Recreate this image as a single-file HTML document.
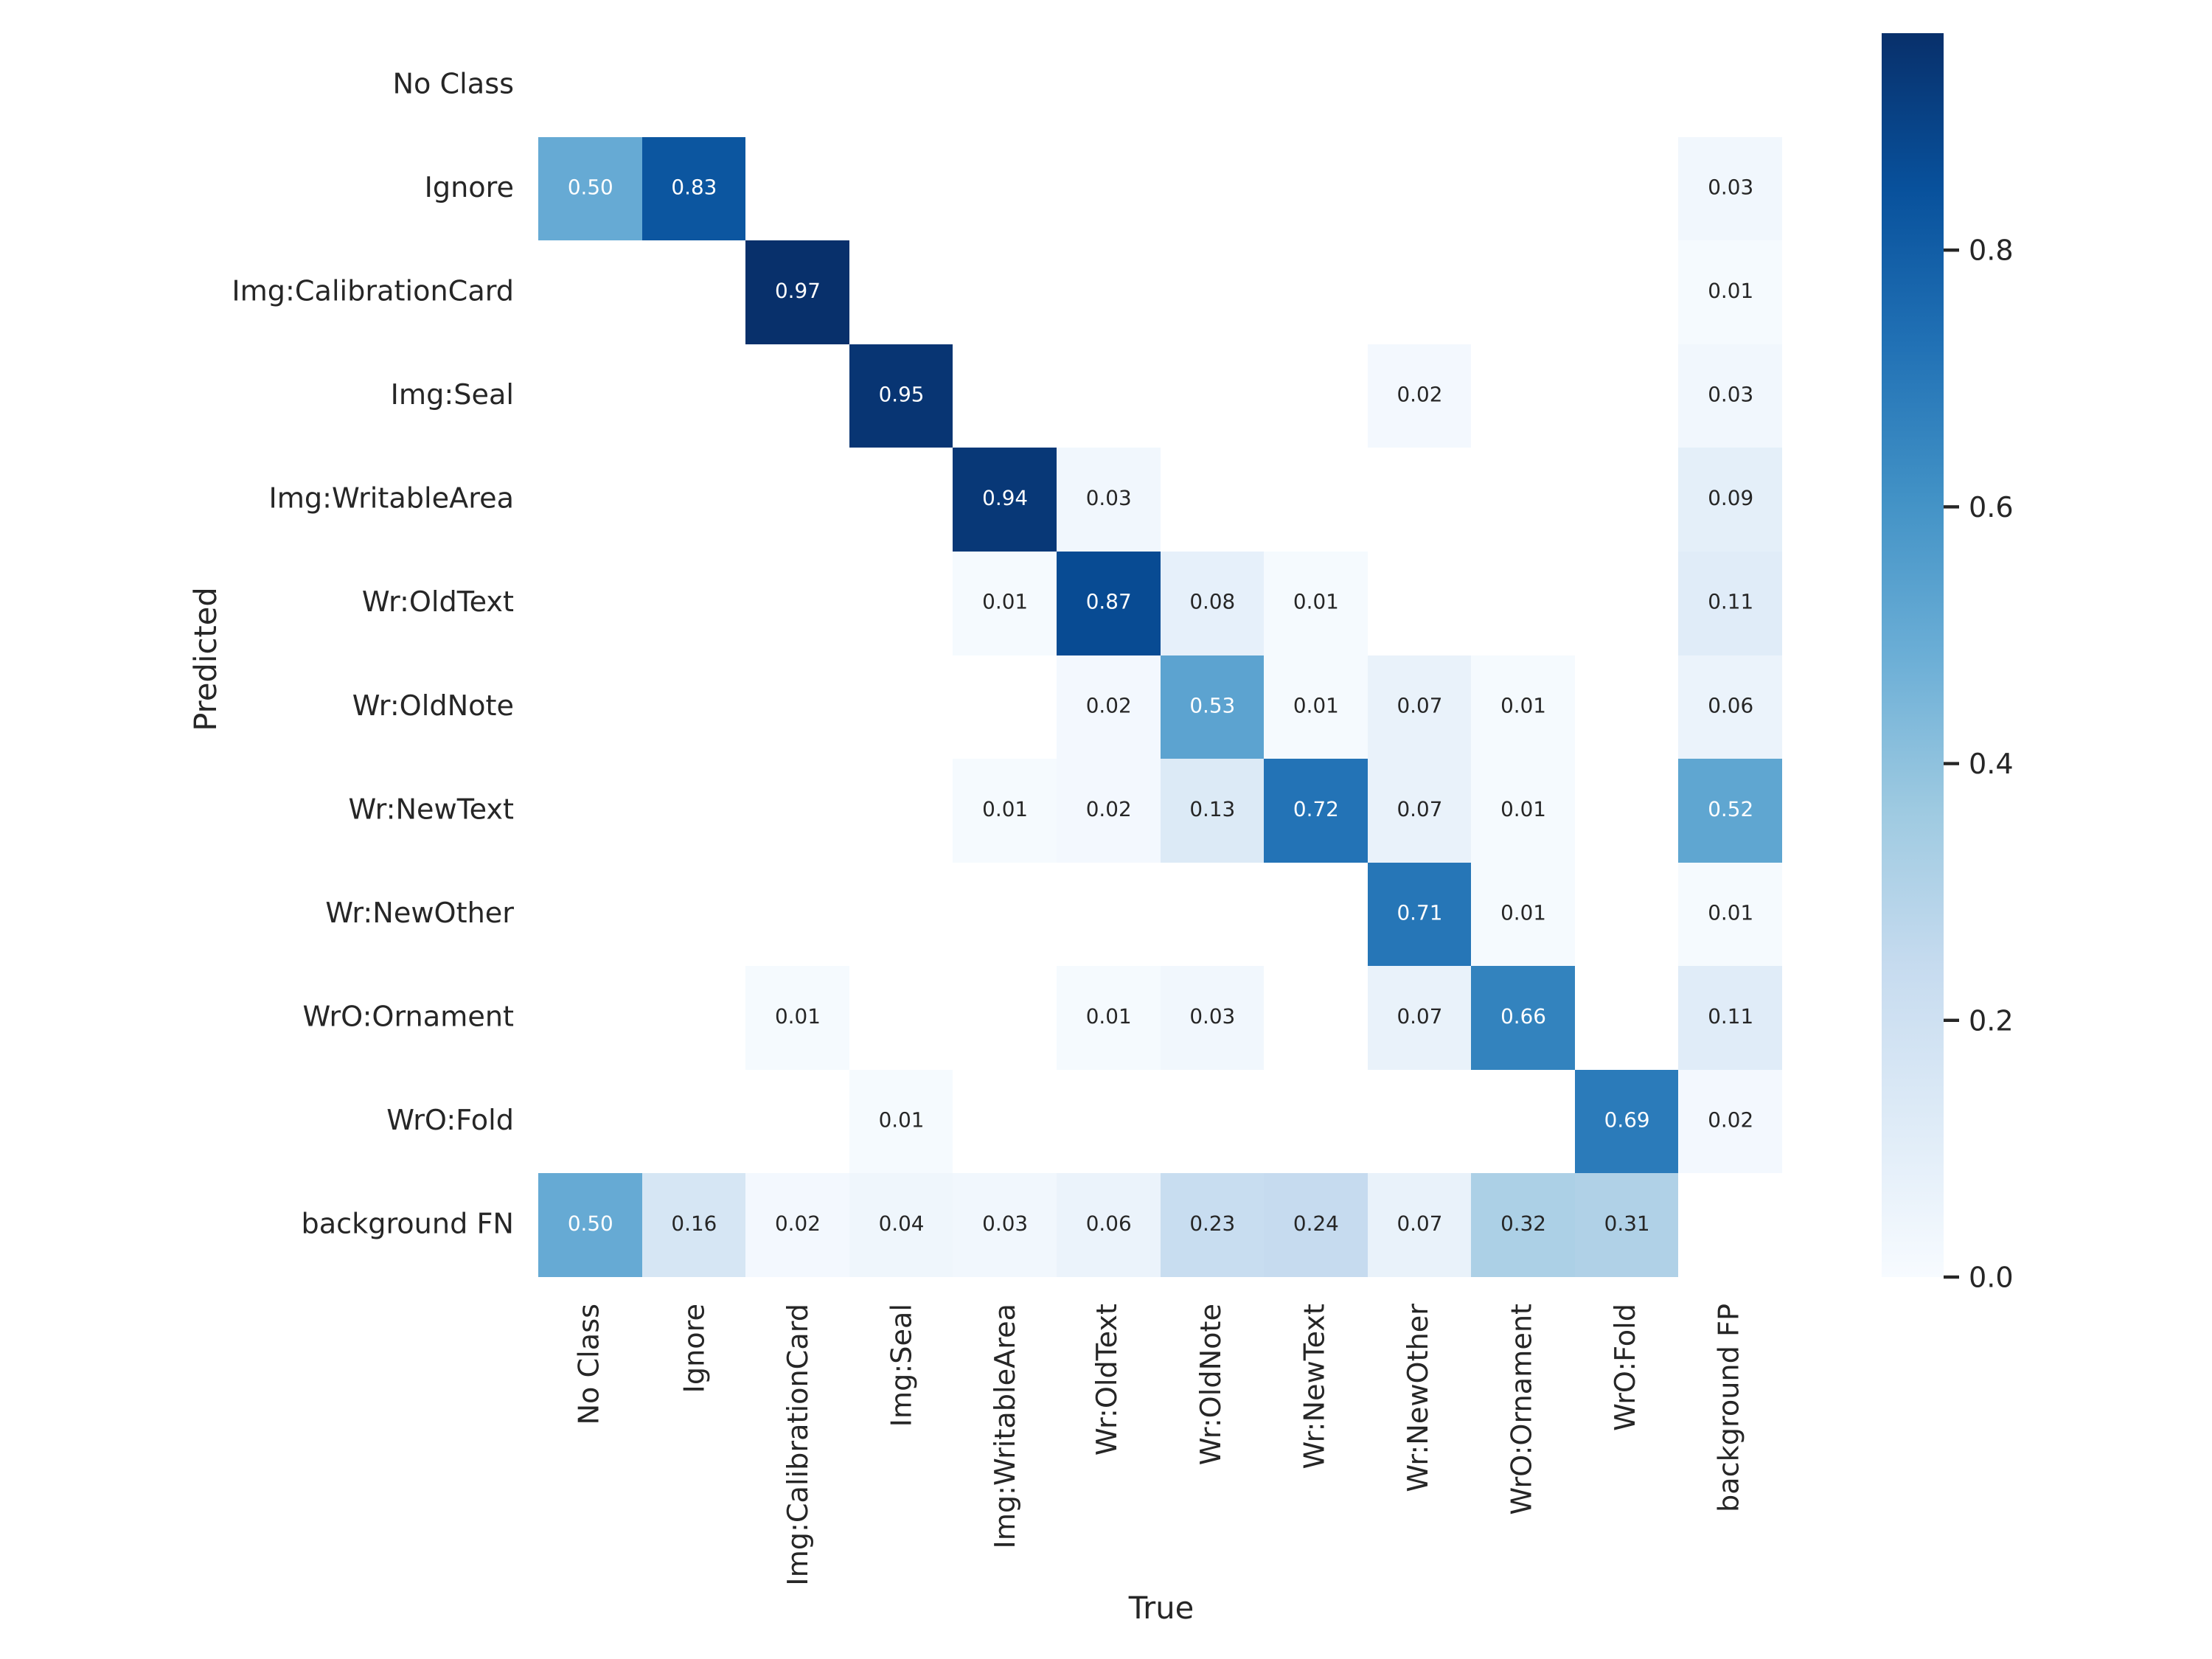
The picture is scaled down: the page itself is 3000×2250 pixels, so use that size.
<!DOCTYPE html>
<html lang="en">
<head>
<meta charset="utf-8">
<title>Confusion matrix</title>
<style>
  html, body { margin: 0; padding: 0; background: #ffffff; width: 3000px; height: 2250px; overflow: hidden; }
  svg { display: block; }
  text { font-family: "DejaVu Sans", "Liberation Sans", sans-serif; fill: #262626; text-rendering: geometricPrecision; }
  .tick { font-size: 38.2px; }
  .axis { font-size: 41.67px; }
  .annot { font-size: 27.8px; text-anchor: middle; }
</style>
</head>
<body>
<svg id="chart" xmlns="http://www.w3.org/2000/svg" width="3000" height="2250" viewBox="0 0 3000 2250">
  <rect x="0" y="0" width="3000" height="2250" fill="#ffffff"/>
  <g id="cells" shape-rendering="crispEdges"></g>
  <g id="annots"></g>
  <g id="ylabels"></g>
  <g id="xlabels"></g>
  <text class="axis" x="1575" y="2195" text-anchor="middle">True</text>
  <text class="axis" transform="translate(293 894) rotate(-90)" text-anchor="middle">Predicted</text>
  <defs>
    <linearGradient id="cbar-gradient" x1="0" y1="1" x2="0" y2="0"></linearGradient>
  </defs>
  <rect id="cbar" fill="url(#cbar-gradient)"/>
  <g id="cbar-ticks"></g>
</svg>
<script>
const categories = ["No Class", "Ignore", "Img:CalibrationCard", "Img:Seal", "Img:WritableArea", "Wr:OldText", "Wr:OldNote", "Wr:NewText", "Wr:NewOther", "WrO:Ornament", "WrO:Fold"];
const yLabels = categories.concat(["background FN"]);
const xLabels = categories.concat(["background FP"]);

const rowNoClass        = [null, null, null, null, null, null, null, null, null, null, null, null];
const rowIgnore         = [0.50, 0.83, null, null, null, null, null, null, null, null, null, 0.03];
const rowCalibration    = [null, null, 0.97, null, null, null, null, null, null, null, null, 0.01];
const rowSeal           = [null, null, null, 0.95, null, null, null, null, 0.02, null, null, 0.03];
const rowWritableArea   = [null, null, null, null, 0.94, 0.03, null, null, null, null, null, 0.09];
const rowOldText        = [null, null, null, null, 0.01, 0.87, 0.08, 0.01, null, null, null, 0.11];
const rowOldNote        = [null, null, null, null, null, 0.02, 0.53, 0.01, 0.07, 0.01, null, 0.06];
const rowNewText        = [null, null, null, null, 0.01, 0.02, 0.13, 0.72, 0.07, 0.01, null, 0.52];
const rowNewOther       = [null, null, null, null, null, null, null, null, 0.71, 0.01, null, 0.01];
const rowOrnament       = [null, null, 0.01, null, null, 0.01, 0.03, null, 0.07, 0.66, null, 0.11];
const rowFold           = [null, null, null, 0.01, null, null, null, null, null, null, 0.69, 0.02];
const rowBackgroundFN   = [0.50, 0.16, 0.02, 0.04, 0.03, 0.06, 0.23, 0.24, 0.07, 0.32, 0.31, null];
const matrix = [rowNoClass, rowIgnore, rowCalibration, rowSeal, rowWritableArea, rowOldText, rowOldNote, rowNewText, rowNewOther, rowOrnament, rowFold, rowBackgroundFN];

const colorbarTicks = [0, 0.2, 0.4, 0.6, 0.8];
const colorbarMax = 0.969;
const bluesStops = ["#f7fbff", "#deebf7", "#c6dbef", "#9ecae1", "#6baed6", "#4292c6", "#2171b5", "#08519c", "#08306b"];

const NS = "http://www.w3.org/2000/svg";
const plot = { left: 730, right: 2417, top: 45, bottom: 1732 };
const cbarBox = { left: 2552, right: 2636 };

function xScale(i) { return plot.left + i * (plot.right - plot.left) / xLabels.length; }
function yScale(i) { return plot.top + i * (plot.bottom - plot.top) / yLabels.length; }
function cbarScale(v) { return plot.bottom - (v / colorbarMax) * (plot.bottom - plot.top); }

function hexToRgb(h) {
  return [parseInt(h.slice(1, 3), 16), parseInt(h.slice(3, 5), 16), parseInt(h.slice(5, 7), 16)];
}
function bluesRgb(t) {
  const c = Math.max(0, Math.min(1, t)) * (bluesStops.length - 1);
  const i = Math.min(Math.floor(c), bluesStops.length - 2);
  const f = c - i;
  const a = hexToRgb(bluesStops[i]);
  const b = hexToRgb(bluesStops[i + 1]);
  return a.map(function (x, k) { return Math.round(x + (b[k] - x) * f); });
}
function luminance(rgb) {
  const l = rgb.map(function (x) {
    const s = x / 255;
    return s <= 0.03928 ? s / 12.92 : Math.pow((s + 0.055) / 1.055, 2.4);
  });
  return 0.2126 * l[0] + 0.7152 * l[1] + 0.0722 * l[2];
}

const cellsG = document.getElementById("cells");
const annotsG = document.getElementById("annots");
matrix.forEach(function (row, r) {
  row.forEach(function (v, c) {
    if (v === null) return;
    const rgb = bluesRgb(v / colorbarMax);
    const x0 = Math.round(xScale(c));
    const x1 = Math.round(xScale(c + 1));
    const y0 = Math.round(yScale(r));
    const y1 = Math.round(yScale(r + 1));

    const rect = document.createElementNS(NS, "rect");
    
    
    rect.setAttribute("x", x0);
    rect.setAttribute("y", y0);
    rect.setAttribute("width", x1 - x0);
    rect.setAttribute("height", y1 - y0);
    rect.setAttribute("fill", "rgb(" + rgb.join(",") + ")");
    cellsG.appendChild(rect);

    const t = document.createElementNS(NS, "text");
    
    
    t.setAttribute("class", "annot");
    t.setAttribute("x", (xScale(c) + xScale(c + 1)) / 2 + 0.5);
    t.setAttribute("y", (yScale(r) + yScale(r + 1)) / 2 + 7.5);
    t.style.fill = luminance(rgb) > 0.408 ? "#262626" : "#ffffff";
    t.textContent = v.toFixed(2);
    annotsG.appendChild(t);
  });
});

const ylabelsG = document.getElementById("ylabels");
yLabels.forEach(function (label, r) {
  const t = document.createElementNS(NS, "text");
  
  
  t.setAttribute("class", "tick");
  t.setAttribute("x", 697);
  t.setAttribute("y", (yScale(r) + yScale(r + 1)) / 2 + 11);
  t.setAttribute("text-anchor", "end");
  t.textContent = label;
  ylabelsG.appendChild(t);
});

const xlabelsG = document.getElementById("xlabels");
xLabels.forEach(function (label, c) {
  const shift = /^(Img:|Ignore)/.test(label) ? 13.6 : 11;
  const px = (xScale(c) + xScale(c + 1)) / 2 + shift;
  const t = document.createElementNS(NS, "text");
  
  
  t.setAttribute("class", "tick");
  t.setAttribute("text-anchor", "end");
  t.setAttribute("transform", "translate(" + px + " 1768) rotate(-90)");
  t.textContent = label;
  xlabelsG.appendChild(t);
});

const gradient = document.getElementById("cbar-gradient");
bluesStops.forEach(function (color, i) {
  const s = document.createElementNS(NS, "stop");
  s.setAttribute("offset", i / (bluesStops.length - 1));
  s.setAttribute("stop-color", color);
  gradient.appendChild(s);
});

const cbar = document.getElementById("cbar");
cbar.setAttribute("x", cbarBox.left);
cbar.setAttribute("y", cbarScale(colorbarMax));
cbar.setAttribute("width", cbarBox.right - cbarBox.left);
cbar.setAttribute("height", cbarScale(0) - cbarScale(colorbarMax));

const cbarTicksG = document.getElementById("cbar-ticks");
colorbarTicks.forEach(function (v) {
  const y = cbarScale(v);

  const mark = document.createElementNS(NS, "rect");
  
  
  mark.setAttribute("x", cbarBox.right);
  mark.setAttribute("y", y - 2.2);
  mark.setAttribute("width", 21);
  mark.setAttribute("height", 4.4);
  mark.setAttribute("fill", "#262626");
  cbarTicksG.appendChild(mark);

  const t = document.createElementNS(NS, "text");
  
  
  t.setAttribute("class", "tick");
  t.setAttribute("x", 2670);
  t.setAttribute("y", y + 13.5);
  t.textContent = v.toFixed(1);
  cbarTicksG.appendChild(t);
});
</script>
</body>
</html>
